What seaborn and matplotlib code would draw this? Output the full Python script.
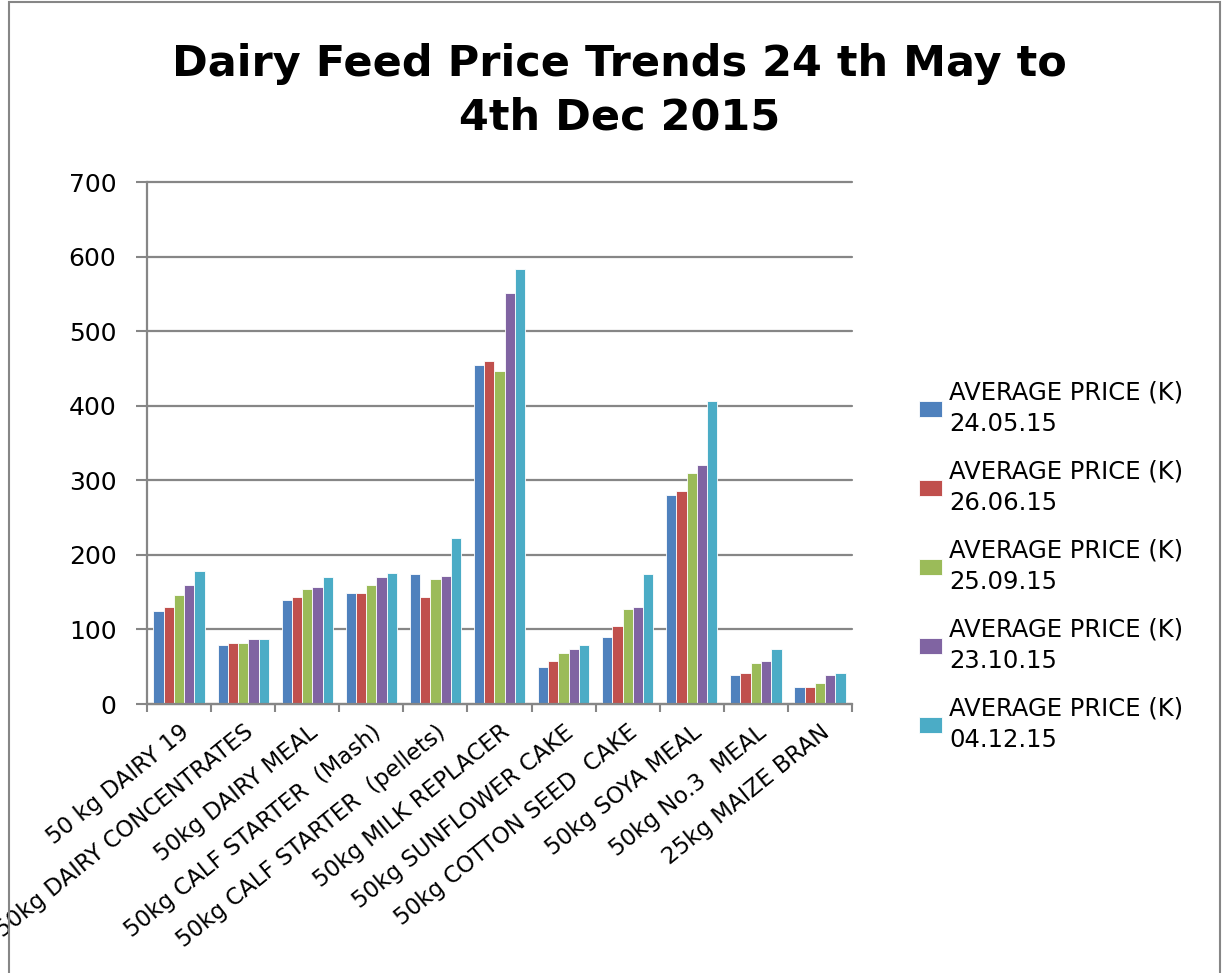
import numpy as np
import pandas as pd
import seaborn as sns
import matplotlib.pyplot as plt
from matplotlib.patches import Rectangle

# datos
productos = [
    '50 kg DAIRY 19', '50kg DAIRY CONCENTRATES', '50kg DAIRY MEAL',
    '50kg CALF STARTER  (Mash)', '50kg CALF STARTER  (pellets)',
    '50kg MILK REPLACER', '50kg SUNFLOWER CAKE', '50kg COTTON SEED  CAKE',
    '50kg SOYA MEAL', '50kg No.3  MEAL', '25kg MAIZE BRAN',
]
fechas = ['AVERAGE PRICE (K)\n24.05.15', 'AVERAGE PRICE (K)\n26.06.15',
          'AVERAGE PRICE (K)\n25.09.15', 'AVERAGE PRICE (K)\n23.10.15',
          'AVERAGE PRICE (K)\n04.12.15']
precio_240515 = [125, 79, 140, 149, 175, 454, 50, 90, 280, 39, 23]
precio_260615 = [130, 82, 143, 149, 143, 460, 57, 105, 286, 42, 23]
precio_250915 = [146, 82, 154, 160, 167, 446, 68, 127, 310, 55, 28]
precio_231015 = [159, 87, 157, 170, 172, 551, 74, 130, 320, 58, 39]
precio_041215 = [178, 87, 170, 176, 223, 583, 79, 175, 406, 74, 41]
colores = ['#4F81BD', '#C0504D', '#9BBB59', '#8064A2', '#4BACC6']

series = [precio_240515, precio_260615, precio_250915, precio_231015, precio_041215]
df = pd.DataFrame({
    'producto': productos * len(fechas),
    'fecha': [f for f in fechas for _ in productos],
    'precio': [v for s in series for v in s],
})

sns.set_style('white')
plt.rcParams['font.family'] = ['DejaVu Sans']
plt.rcParams['text.color'] = 'black'

fig = plt.figure(figsize=(12.22, 9.73), dpi=100)
ax = fig.add_axes([147 / 1222, 1 - 704 / 973, 705 / 1222, 522 / 973])

sns.barplot(data=df, x='producto', y='precio', hue='fecha', palette=colores,
            saturation=1, width=0.8, edgecolor='white', linewidth=0.6, ax=ax)

gris = '#868686'
ax.set_ylim(0, 700)
ax.set_xlim(-0.5, len(productos) - 0.5)
ax.set_yticks(range(0, 701, 100))
ax.yaxis.grid(True, color=gris, linewidth=1.6)
for linea in ax.get_ygridlines():
    linea.set_clip_on(False)
ax.set_axisbelow(True)
ax.tick_params(axis='y', labelsize=18, left=True, length=8, color=gris, width=1.5,
               pad=14, labelcolor='black')
ax.set_xticks(range(len(productos)))
ax.set_xticklabels(productos, rotation=39, ha='right', rotation_mode='anchor', fontsize=16.5)
ax.tick_params(axis='x', which='major', length=0, pad=12, labelcolor='black')
ax.set_xticks(np.arange(-0.5, len(productos)), minor=True)
ax.tick_params(axis='x', which='minor', bottom=True, length=6, color=gris, width=1.5)
ax.set_xlabel('')
ax.set_ylabel('')
for lado in ['top', 'right']:
    ax.spines[lado].set_visible(False)
for lado in ['left', 'bottom']:
    ax.spines[lado].set_color(gris)
    ax.spines[lado].set_linewidth(1.6)

leyenda = ax.legend(loc='center left', bbox_to_anchor=(1.081, 0.264), borderaxespad=0,
                    frameon=False, fontsize=17.5, handlelength=0.95, handleheight=0.62,
                    handletextpad=0.3, labelspacing=0.95, title=None)
for t in leyenda.get_texts():
    t.set_linespacing(1.42)

fig.text(0.507, 1 - 91 / 973, 'Dairy Feed Price Trends 24 th May to\n4th Dec 2015',
         ha='center', va='center', fontsize=31, fontweight='bold', linespacing=1.35)

fig.patches.append(Rectangle((9 / 1222, -0.02), 1 - 11 / 1222, 1.02 - 2 / 973,
                             transform=fig.transFigure, fill=False,
                             edgecolor=gris, linewidth=1.5))

fig.savefig('out.png', dpi=100)
